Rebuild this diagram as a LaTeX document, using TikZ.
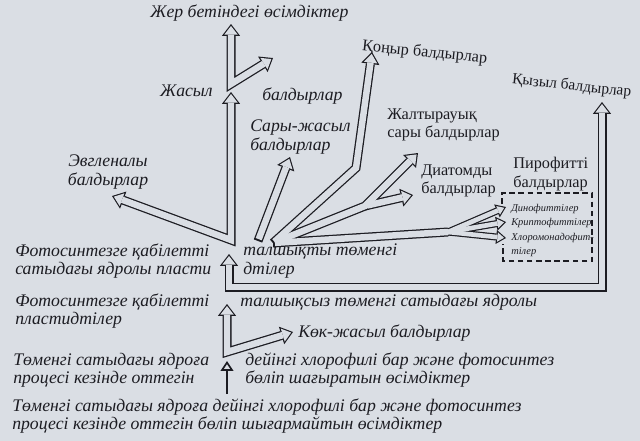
\documentclass[tikz,border=0pt]{standalone}
\usepackage{fontspec}
\setmainfont{Liberation Serif}
\usetikzlibrary{arrows.meta}
\definecolor{paper}{RGB}{218,222,228}
\definecolor{ink}{RGB}{28,28,34}
\pgfdeclarelayer{paperlayer}
\pgfdeclarelayer{outline}
\pgfsetlayers{paperlayer,outline,main}
\tikzstyle{txt} = [font=\fontsize{12.6}{13}\selectfont\itshape, text=ink, inner sep=0pt, align=left]
\tikzstyle{uptxt} = [txt, font=\fontsize{11.6}{13}\selectfont\upshape]
\tikzstyle{smalltxt} = [txt, font=\fontsize{7.4}{10}\selectfont\itshape]
\tikzstyle{tubeout} = [line width=6.4pt, draw=ink, >={Triangle[length=8.5pt, width=13pt, line width=0pt]}]
\tikzstyle{tubein} = [line width=4.6pt, draw=paper, shorten <=1.4pt, shorten >=1.4pt, >={Triangle[length=6.2pt, width=9.6pt, line width=0pt]}]
\tikzstyle{thinout} = [line width=5pt, draw=ink, >={Triangle[length=7pt, width=10pt, line width=0pt]}]
\tikzstyle{thinin} = [line width=3.3pt, draw=paper, shorten <=1.4pt, shorten >=1.4pt, >={Triangle[length=4.7pt, width=6.7pt, line width=0pt]}]
\tikzstyle{solidarrow} = [line width=1.8pt, draw=ink, -{Triangle[open, length=7pt, width=9pt, line width=1.2pt]}]
\tikzstyle{box} = [draw=ink, line width=0.8pt, dash pattern=on 4pt off 2.5pt]
% hollow tube: outline on its own layer, so that tubes merge
\newcommand\tube[2][->]{%
  \begin{pgfonlayer}{outline}\draw[tubeout,#1] #2;\end{pgfonlayer}
  \draw[tubein,#1] #2;}
\newcommand\thintube[2][->]{%
  \begin{pgfonlayer}{outline}\draw[thinout,#1] #2;\end{pgfonlayer}
  \draw[thinin,#1] #2;}

\begin{document}
\begin{tikzpicture}[x=0.025cm, y=-0.025cm]
	\useasboundingbox (0,0) rectangle (640,441);
	\begin{pgfonlayer}{paperlayer}
		\fill[paper] (0,0) rectangle (640,441);
	\end{pgfonlayer}

	% points of the tubes
	\coordinate (smallbot) at (227,394);
	\coordinate (smalltop) at (227,361);
	\coordinate (base1) at (227,352);
	\coordinate (tip1) at (227,304);
	\coordinate (koktip) at (293,332);
	\coordinate (base2) at (229,287);
	\coordinate (tip2) at (229,254);
	\coordinate (qyzylbend) at (602,287);
	\coordinate (qyzyltip) at (602,102);
	\coordinate (base3) at (231,240);
	\coordinate (zhasyltip) at (231,92);
	\coordinate (evgtip) at (112,196);
	\coordinate (sarybase) at (258,241);
	\coordinate (sarytip) at (290,157);
	\coordinate (fan) at (273,243);
	\coordinate (qonyrbend) at (356,168);
	\coordinate (qonyrtip) at (372,52);
	\coordinate (zhaltbend) at (365,206);
	\coordinate (zhalttip) at (418,153);
	\coordinate (diattip) at (413,195);
	\coordinate (pirobend) at (448,232);
	\coordinate (pirostart) at (436,233);
	\coordinate (dinotip) at (506,207);
	\coordinate (kriptip) at (506,222);
	\coordinate (xlortip) at (506,238);
	\coordinate (base4) at (231,84);
	\coordinate (zhertip) at (231,24);
	\coordinate (landtip) at (273,58);

	% labels
	\node (zher)[txt, anchor = west] at (150,13) {Жер бетіндегі өсімдіктер};
	\node (zhasyl)[txt, anchor = east] at (213,91) {Жасыл};
	\node (zhasylb)[txt, anchor = west] at (262,96) {балдырлар};
	\node (sary)[txt, anchor = west] at (250,137) {Сары-жасыл\\балдырлар};
	\node (qonyr)[uptxt, anchor = west, rotate = -6] at (362,46) {Қоңыр балдырлар};
	\node (zhalt)[uptxt, anchor = west] at (387,125) {Жалтырауық\\сары балдырлар};
	\node (diat)[uptxt, anchor = west] at (421,181) {Диатомды\\балдырлар};
	\node (piro)[uptxt, anchor = west] at (513,174) {Пирофитті\\балдырлар};
	\node (qyzyl)[uptxt, font = \fontsize{11}{13}\selectfont, anchor = west, rotate = -6] at (512,80) {Қызыл балдырлар};
	\node (evg)[txt, align = center] at (108,172) {Эвгленалы\\балдырлар};
	\node (dino)[smalltxt, anchor = west] at (511,209) {Динофиттілер};
	\node (krip)[smalltxt, anchor = west] at (511,223) {Криптофиттілер};
	\node (xlor)[smalltxt, anchor = west] at (511,245) {Хлоромонадофит-\\тілер};
	\node (row4l)[txt, anchor = west] at (15,261) {Фотосинтезге қабілетті\\сатыдағы ядролы пласти};
	\node (row4r)[txt, anchor = west] at (243,261) {талшықты төменгі\\дтілер};
	\node (row3l)[txt, anchor = west] at (15,311) {Фотосинтезге қабілетті\\пластидтілер};
	\node (row3r)[txt, anchor = west] at (240,302) {талшықсыз төменгі сатыдағы ядролы};
	\node (kok)[txt, anchor = west] at (298,333) {Көк-жасыл балдырлар};
	\node (row2l)[txt, anchor = west] at (13,370) {Төменгі сатыдағы ядроға\\процесі кезінде оттегін};
	\node (row2r)[txt, anchor = west] at (245,370) {дейінгі хлорофилі бар және фотосинтез\\бөліп шағыратын өсімдіктер};
	\node (row1)[txt, anchor = west] at (12,416) {Төменгі сатыдағы ядроға дейінгі хлорофилі бар және фотосинтез\\процесі кезінде оттегін бөліп шығармайтын өсімдіктер};

	% arrows
	\draw [solidarrow] (smallbot) -- (smalltop);
	\tube[<->]{(tip1) -- (base1) -- (koktip)}
	\tube[<->]{(tip2) -- (base2) -- (qyzylbend) -- (qyzyltip)}
	\tube[<->]{(zhasyltip) -- (base3) -- (evgtip)}
	\tube{(sarybase) -- (sarytip)}
	\tube{(fan) -- (qonyrbend) -- (qonyrtip)}
	\tube{(fan) -- (zhaltbend) -- (zhalttip)}
	\tube{(zhaltbend) -- (diattip)}
	\tube[-, shorten >=0pt]{(fan) -- (pirobend)}
	\thintube{(pirostart) -- (pirobend) -- (dinotip)}
	\thintube{(pirostart) -- (pirobend) -- (kriptip)}
	\thintube{(pirostart) -- (pirobend) -- (xlortip)}
	\tube[<->]{(zhertip) -- (base4) -- (landtip)}

	\draw [box] (502,204) -- (502,193) -- (592,193) -- (592,261) -- (503,261) -- (503,244);
\end{tikzpicture}
\end{document}
